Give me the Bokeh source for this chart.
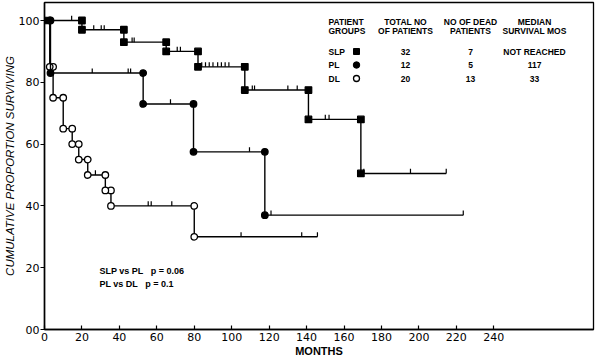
from bokeh.plotting import figure
from bokeh.models import Range1d, Label, FixedTicker
from bokeh.embed import file_html
from bokeh.resources import INLINE

# ---------------- data ----------------
x_ticks = [0, 20, 40, 60, 80, 100, 120, 140, 160, 180, 200, 220, 240]
y_ticks = [0, 20, 40, 60, 80, 100]
y_tick_labels = {0: "00", 20: "20", 40: "40", 60: "60", 80: "80", 100: "100"}

# SLP (filled squares)
slp_death_t = [20, 42.4, 65, 82, 107, 141, 169]
slp_levels = [100, 97, 93, 90, 85, 77.5, 68, 50.5]
slp_censor_t = [14.5, 26.3, 30.3, 31.9, 46.8, 47.9, 70.9, 72.6,
                84, 86, 88, 90, 92.5, 94.5, 96.5, 98.5,
                111, 112.2, 130, 135, 150, 152, 170.6, 195.5]
slp_end = 214.6

# PL (filled circles)
pl_death_t = [3.2, 52.7, 79.6, 117.7]
pl_levels = [100, 83, 73, 57.5, 37]
pl_censor_t = [25.5, 44.7, 46, 67.3, 109.5, 121]
pl_end = 223.7

# DL (open circles)
dl_death_t = [2.8, 4.6, 10, 14.8, 18.3, 23.1, 32.5, 35.5, 80]
dl_levels = [100, 85, 75, 65, 60, 55, 50, 45, 40, 30]
dl_censor_t = [27.2, 55.4, 57, 68, 105, 137.4]
dl_end = 145.8

groups = ["SLP", "PL", "DL"]
total_patients = ["32", "12", "20"]
dead_patients = ["7", "5", "13"]
median_survival = ["NOT REACHED", "117", "33"]
comparisons = ["SLP vs PL\u00a0\u00a0\u00a0p\u00a0=\u00a00.06", "PL vs DL\u00a0\u00a0\u00a0p\u00a0=\u00a00.1"]
x_title = "MONTHS"
y_title = "CUMULATIVE PROPORTION SURVIVING"

# ---------------- figure ----------------
W, H = 595, 360
BL, BR, BT, BB = 44, 2, 2, 31
PX_PER_MONTH = 1.872
PX_PER_UNIT = 3.09
x_end = (W - BL - BR) / PX_PER_MONTH
y_end = (H - BT - BB) / PX_PER_UNIT

p = figure(width=W, height=H, output_backend="svg", toolbar_location=None,
           x_range=Range1d(0, x_end), y_range=Range1d(0, y_end),
           min_border_left=BL, min_border_right=BR,
           min_border_top=BT, min_border_bottom=BB)
p.xgrid.visible = False
p.ygrid.visible = False
p.outline_line_color = "black"
p.outline_line_width = 1.3
p.background_fill_color = "white"
p.border_fill_color = "white"

FONT = "Liberation Sans"
TICK_FONT = "DejaVu Sans"
for ax in (p.xaxis[0], p.yaxis[0]):
    ax.axis_line_color = "black"
    ax.axis_line_width = 1.5
    ax.major_tick_line_color = "black"
    ax.major_tick_line_width = 1.2
    ax.minor_tick_line_color = None
    ax.major_label_text_font = TICK_FONT
    ax.major_label_text_font_size = "11px"
    ax.major_label_text_color = "black"
    ax.axis_label_text_color = "black"
    ax.axis_label_text_font = FONT

p.xaxis.ticker = FixedTicker(ticks=x_ticks)
p.xaxis.major_tick_in = 4
p.xaxis.major_tick_out = 0
p.xaxis.major_label_standoff = 3
p.xaxis.axis_label = x_title
p.xaxis.axis_label_text_font_size = "11px"
p.xaxis.axis_label_text_font_style = "bold"
p.xaxis.axis_label_standoff = 1

p.yaxis.ticker = FixedTicker(ticks=y_ticks)
p.yaxis.major_label_overrides = y_tick_labels
p.yaxis.major_tick_in = 0
p.yaxis.major_tick_out = 4
p.yaxis.major_label_standoff = 1
p.yaxis.axis_label = y_title
p.yaxis.axis_label_text_font_size = "11.5px"
p.yaxis.axis_label_text_font_style = "italic"
p.yaxis.axis_label_standoff = 0


def px_to_x(px):
    return (px - BL) / PX_PER_MONTH


def py_to_y(py):
    return ((H - BB) - py) / PX_PER_UNIT


TICK_LEN = 1.5


def draw_curve(death_t, levels, end, censor_t, marker, fill):
    xs, ys = [0], [levels[0]]
    for i, t in enumerate(death_t):
        xs += [t, t]
        ys += [levels[i], levels[i + 1]]
    xs.append(end)
    ys.append(levels[-1])
    p.line(xs, ys, line_color="black", line_width=1.4)

    def level_at(t):
        k = sum(1 for d in death_t if d <= t)
        return levels[k]

    cx = list(censor_t) + [end]
    cy = [level_at(t) for t in cx]
    p.segment(x0=cx, y0=cy, x1=cx, y1=[v + TICK_LEN for v in cy],
              line_color="black", line_width=1.2)

    mx = list(death_t) + list(death_t)
    my = [levels[i] for i in range(len(death_t))] + [levels[i + 1] for i in range(len(death_t))]
    p.scatter(mx, my, marker=marker, size=6.5, fill_color=fill,
              line_color="black", line_width=1.3)


draw_curve(dl_death_t, dl_levels, dl_end, dl_censor_t, "circle", "white")
draw_curve(pl_death_t, pl_levels, pl_end, pl_censor_t, "circle", "black")
draw_curve(slp_death_t, slp_levels, slp_end, slp_censor_t, "square", "black")
p.scatter([0], [slp_levels[0]], marker="square", size=6.5, fill_color="black", line_color="black")

# ---------------- table / legend ----------------
TFS = "8.5px"


def lab(x, y, text, align="left", size=TFS, style="bold"):
    p.add_layout(Label(x=x, y=y, text=text, text_font=FONT, text_font_size=size,
                       text_font_style=style, text_align=align, text_baseline="middle",
                       text_color="black"))


col_group = px_to_x(328)
col_marker = px_to_x(356)
col_total = px_to_x(405)
col_dead = px_to_x(470)
col_median = px_to_x(534)
hdr1, hdr2 = py_to_y(21), py_to_y(30.5)
rows = [py_to_y(51), py_to_y(64.5), py_to_y(78)]

lab(col_group, hdr1, "PATIENT")
lab(col_group, hdr2, "GROUPS")
lab(col_total, hdr1, "TOTAL NO", "center")
lab(col_total, hdr2, "OF PATIENTS", "center")
lab(col_dead, hdr1, "NO OF DEAD", "center")
lab(col_dead, hdr2, "PATIENTS", "center")
lab(col_median, hdr1, "MEDIAN", "center")
lab(col_median, hdr2, "SURVIVAL MOS", "center")

for i, g in enumerate(groups):
    lab(col_group, rows[i], g)
    lab(col_total, rows[i], total_patients[i], "center")
    lab(col_dead, rows[i], dead_patients[i], "center")
    lab(col_median, rows[i], median_survival[i], "center")

p.scatter([col_marker], [rows[0]], marker="square", size=6, fill_color="black", line_color="black")
p.scatter([col_marker], [rows[1]], marker="circle", size=6.5, fill_color="black", line_color="black")
p.scatter([col_marker], [rows[2]], marker="circle", size=6, fill_color="white",
          line_color="black", line_width=1.3)

# comparison notes
lab(px_to_x(99), py_to_y(270), comparisons[0], size="9px")
lab(px_to_x(99), py_to_y(283), comparisons[1], size="9px")

open("out.html", "w").write(file_html(p, INLINE))
